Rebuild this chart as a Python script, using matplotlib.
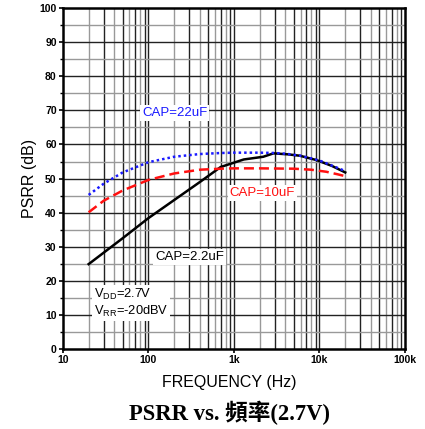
import numpy as np
import matplotlib
matplotlib.use("Agg")
import matplotlib.pyplot as plt
from matplotlib.ticker import FixedLocator, NullFormatter

plt.rcParams['font.family'] = ['Liberation Sans', 'DejaVu Sans']
plt.rcParams['mathtext.fontset'] = 'custom'
plt.rcParams['mathtext.rm'] = 'Liberation Sans'

# ---- data ----
freq_22 = [20, 30, 50, 100, 200, 400, 700, 1000, 2000, 3000, 4000, 6000, 10000, 15000, 20000]
psrr_22 = [45.2, 48.5, 51.8, 54.8, 56.4, 57.2, 57.5, 57.6, 57.6, 57.5, 57.3, 56.7, 55.3, 53.5, 52.2]

freq_10 = [20, 30, 50, 100, 200, 400, 700, 1000, 2000, 5000, 8000, 12000, 16000, 20000]
psrr_10 = [40.1, 43.5, 46.5, 49.6, 51.5, 52.6, 52.9, 53.0, 53.0, 52.9, 52.6, 52.0, 51.3, 50.7]

freq_2p2 = [20, 50, 100, 200, 400, 700, 1300, 2200, 2900, 4300, 5900, 9300, 14000, 20000]
psrr_2p2 = [24.9, 32.5, 38.4, 43.7, 49.0, 53.4, 55.6, 56.4, 57.4, 57.1, 56.7, 55.4, 53.7, 51.8]

xticks = [10, 100, 1000, 10000, 100000]
xtick_labels = ['10', '100', '1k', '10k', '100k']
yticks = list(range(0, 101, 10))

fig = plt.figure(figsize=(4.25, 4.29), dpi=100)
ax = fig.add_axes([0.148, 0.1865, 0.805, 0.7945])
ax.set_xscale('log')
ax.set_xlim(10, 100000)
ax.set_ylim(0, 100)

# grid: odd multiples black, even gray (vertical); 10s black, 5s gray (horizontal)
for dec in [10, 100, 1000, 10000]:
    for m in range(2, 10):
        col = '#222222' if m % 2 == 1 else '#999999'
        ax.axvline(dec * m, color=col, lw=1.0, zorder=1)
for d in [100, 1000, 10000]:
    ax.axvline(d, color='#222222', lw=1.0, zorder=1)
for y in range(5, 100, 5):
    col = '#222222' if y % 10 == 0 else '#999999'
    ax.axhline(y, color=col, lw=1.0, zorder=1)

ax.plot(freq_2p2, psrr_2p2, color='black', lw=1.8, zorder=3)
ax.plot(freq_10, psrr_10, color='#ff1010', lw=1.8, ls=(0, (4, 2)), zorder=4)
ax.plot(freq_22, psrr_22, color='#1a1aff', lw=1.8, ls=(0, (1, 1.2)), zorder=4)

box = dict(facecolor='white', edgecolor='none', pad=1.5)
ax.text(84, 69.2, 'CAP=22uF', color='#1a1aff', fontsize=9.5, va='center', ha='left', bbox=box, zorder=5)
ax.text(890, 45.7, 'CAP=10uF', color='#ff1010', fontsize=9.5, va='center', ha='left', bbox=box, zorder=5)
ax.text(119, 27, 'CAP=2.2uF', color='black', fontsize=9.5, va='center', ha='left', bbox=box, zorder=5)
ax.text(23, 13.5, 'V$_{\\mathregular{DD}}$=2.7V\nV$_{\\mathregular{RR}}$=-20dBV', color='black',
        fontsize=9.3, va='center', ha='left', linespacing=1.1, bbox=box, zorder=5)

ax.set_xticks(xticks)
ax.set_xticklabels(xtick_labels, fontsize=7.5, fontweight='bold')
ax.xaxis.set_minor_formatter(NullFormatter())
ax.set_yticks(yticks)
ax.set_yticklabels([str(v) for v in yticks], fontsize=7.5, fontweight='bold')
ax.yaxis.set_minor_locator(FixedLocator(list(range(5, 100, 10))))
ax.tick_params(axis='both', which='major', direction='out', length=3, width=1.2, pad=1.5)
ax.tick_params(axis='y', which='minor', direction='out', length=2, width=1.0)
ax.tick_params(axis='x', which='minor', length=0)
for s in ax.spines.values():
    s.set_linewidth(1.8)
    s.set_zorder(6)

ax.set_xlabel('FREQUENCY (Hz)', fontsize=11.5, labelpad=6)
ax.xaxis.set_label_coords(0.485, -0.076)
ax.set_ylabel('PSRR (dB)', fontsize=11.5, labelpad=2)

fig.text(230 / 425, 1 - 413 / 429, 'PSRR vs. 頻率(2.7V)', ha='center', va='center', fontsize=16.3,
         fontweight='bold', family=['Liberation Serif', 'Noto Sans CJK TC'])

fig.savefig('out.png', dpi=100)
